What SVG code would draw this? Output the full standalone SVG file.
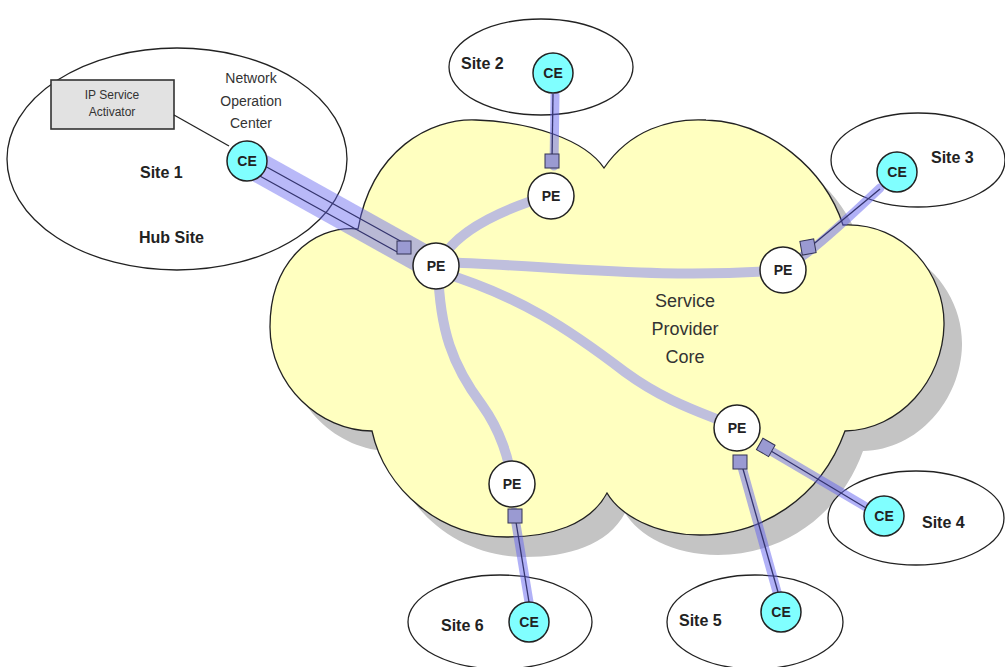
<svg xmlns="http://www.w3.org/2000/svg" width="1005" height="667" viewBox="0 0 1005 667">
<defs>
<style>
.site{fill:#fff;stroke:#222;stroke-width:1.3}
.ce{fill:#80ffff;stroke:#222;stroke-width:1.5}
.pe{fill:#fff;stroke:#222;stroke-width:1.5}
.nl{font-family:"Liberation Sans",Arial,sans-serif;font-weight:bold;font-size:14px;fill:#222;text-anchor:middle}
.sl{font-family:"Liberation Sans",Arial,sans-serif;font-weight:bold;font-size:16px;fill:#222}
.core{fill:none;stroke:#bfbfdd;stroke-width:10;stroke-linecap:round}
.band{fill:none;stroke:rgba(100,100,240,0.5);stroke-width:9;stroke-linecap:round}
.hub{fill:none;stroke:rgba(100,100,240,0.45);stroke-width:30}
.wire{fill:none;stroke:#34346e;stroke-width:1.3}
.port{fill:#9a9ad2;stroke:#333355;stroke-width:1}
.txt{font-family:"Liberation Sans",Arial,sans-serif;fill:#333;text-anchor:middle}
</style>
<path id="cloudShape" d="M 358 229 C 372 150, 430 118, 476 120 C 532 122, 585 140, 604 168 C 630 130, 670 118, 706 120 C 770 122, 825 170, 843 225 C 905 222, 945 275, 944 325 C 943 380, 900 430, 845 431 C 820 500, 760 535, 700 535 C 655 535, 620 515, 607 493 C 590 525, 550 537, 507 537 C 440 537, 385 490, 372 431 C 320 431, 270 385, 270 327 C 270 265, 310 225, 358 229 Z"/>
</defs>

<g id="site1">
<ellipse class="site" cx="177" cy="159" rx="170" ry="111"/>
<rect x="51" y="80" width="123" height="49" fill="#e2e2e2" stroke="#333" stroke-width="1.6"/>
<text class="txt" x="112" y="99" font-size="12" fill="#555">IP Service</text>
<text class="txt" x="112" y="116" font-size="12" fill="#555">Activator</text>
<text class="txt" x="251" y="83" font-size="14">Network</text>
<text class="txt" x="251" y="106" font-size="14">Operation</text>
<text class="txt" x="251" y="128" font-size="14">Center</text>
<text class="sl" x="140" y="178">Site 1</text>
<text class="sl" x="139" y="243" font-size="17">Hub Site</text>
</g>

<g id="core">
<use href="#cloudShape" fill="#c4c4c4" transform="translate(18,20)"/>
<use href="#cloudShape" fill="#ffffc0" stroke="#222" stroke-width="1.3"/>
<text class="txt" x="685" y="307" font-size="18">Service</text>
<text class="txt" x="685" y="335" font-size="18">Provider</text>
<text class="txt" x="685" y="363" font-size="18">Core</text>
</g>

<g id="site2"><ellipse class="site" cx="541" cy="67" rx="92" ry="48"/><text class="sl" x="461" y="69">Site 2</text></g>
<g id="site3"><ellipse class="site" cx="918" cy="160" rx="87" ry="47"/><text class="sl" x="931" y="163">Site 3</text></g>
<g id="site4"><ellipse class="site" cx="916" cy="518" rx="88" ry="47"/><text class="sl" x="922" y="528">Site 4</text></g>
<g id="site5"><ellipse class="site" cx="755" cy="622" rx="88" ry="47"/><text class="sl" x="679" y="626">Site 5</text></g>
<g id="site6"><ellipse class="site" cx="500" cy="622" rx="92" ry="47"/><text class="sl" x="441" y="631">Site 6</text></g>

<g id="connectors">
<path class="core" d="M 440 262 Q 460 222 550 195"/>
<path class="core" d="M 440 262 C 560 266, 660 280, 785 270"/>
<path class="core" d="M 440 272 C 520 296, 570 330, 625 372 C 670 405, 710 415, 738 428"/>
<path class="core" d="M 438 270 C 440 330, 452 365, 482 405 C 500 430, 510 460, 512 485"/>
<path class="hub" d="M 256 166 L 421 258"/>
<path class="wire" d="M 263 165 L 404 243"/>
<path class="wire" d="M 258 175 L 399 253"/>
<path class="band" d="M 555 95 L 554 166"/>
<path class="wire" d="M 553 94 L 552 160"/>
<path class="band" d="M 800 258 Q 820 245 880 188"/>
<path class="wire" d="M 810 247 L 880 189"/>
<path class="band" d="M 766 448 L 866 507"/>
<path class="wire" d="M 766 448 L 866 508"/>
<path class="band" d="M 740 460 L 777 592"/>
<path class="wire" d="M 741 462 L 778 592"/>
<path class="band" d="M 514 512 L 529 602"/>
<path class="wire" d="M 515 516 L 529 602"/>
<line x1="174" y1="115" x2="229" y2="146" stroke="#222" stroke-width="1.3"/>
</g>

<g id="ce1"><circle class="ce" cx="247" cy="161" r="20"/><text class="nl" x="247" y="166">CE</text></g>
<g id="ce2"><circle class="ce" cx="553" cy="73" r="20"/><text class="nl" x="553" y="78">CE</text></g>
<g id="ce3"><circle class="ce" cx="897" cy="172" r="20"/><text class="nl" x="897" y="177">CE</text></g>
<g id="ce4"><circle class="ce" cx="884" cy="516" r="20"/><text class="nl" x="884" y="521">CE</text></g>
<g id="ce5"><circle class="ce" cx="781" cy="612" r="20"/><text class="nl" x="781" y="617">CE</text></g>
<g id="ce6"><circle class="ce" cx="529" cy="622" r="20"/><text class="nl" x="529" y="627">CE</text></g>

<g id="pe1"><circle class="pe" cx="436" cy="266" r="23"/><text class="nl" x="436" y="271" font-size="13">PE</text></g>
<g id="pe2"><circle class="pe" cx="551" cy="196" r="23"/><text class="nl" x="551" y="201" font-size="13">PE</text></g>
<g id="pe3"><circle class="pe" cx="783" cy="270" r="23"/><text class="nl" x="783" y="275" font-size="13">PE</text></g>
<g id="pe4"><circle class="pe" cx="737" cy="428" r="23"/><text class="nl" x="737" y="433" font-size="13">PE</text></g>
<g id="pe5"><circle class="pe" cx="512" cy="484" r="23"/><text class="nl" x="512" y="489" font-size="13">PE</text></g>

<g id="ports">
<rect class="port" x="397" y="241" width="14" height="13"/>
<rect class="port" x="545" y="154" width="14" height="14"/>
<rect class="port" x="801" y="240" width="14" height="14" transform="rotate(-10 808 247)" fill="#a8a8c0"/>
<rect class="port" x="759" y="441" width="14" height="13" transform="rotate(30 766 447)"/>
<rect class="port" x="733" y="455" width="14" height="14"/>
<rect class="port" x="508" y="509" width="14" height="14"/>
</g>
</svg>
